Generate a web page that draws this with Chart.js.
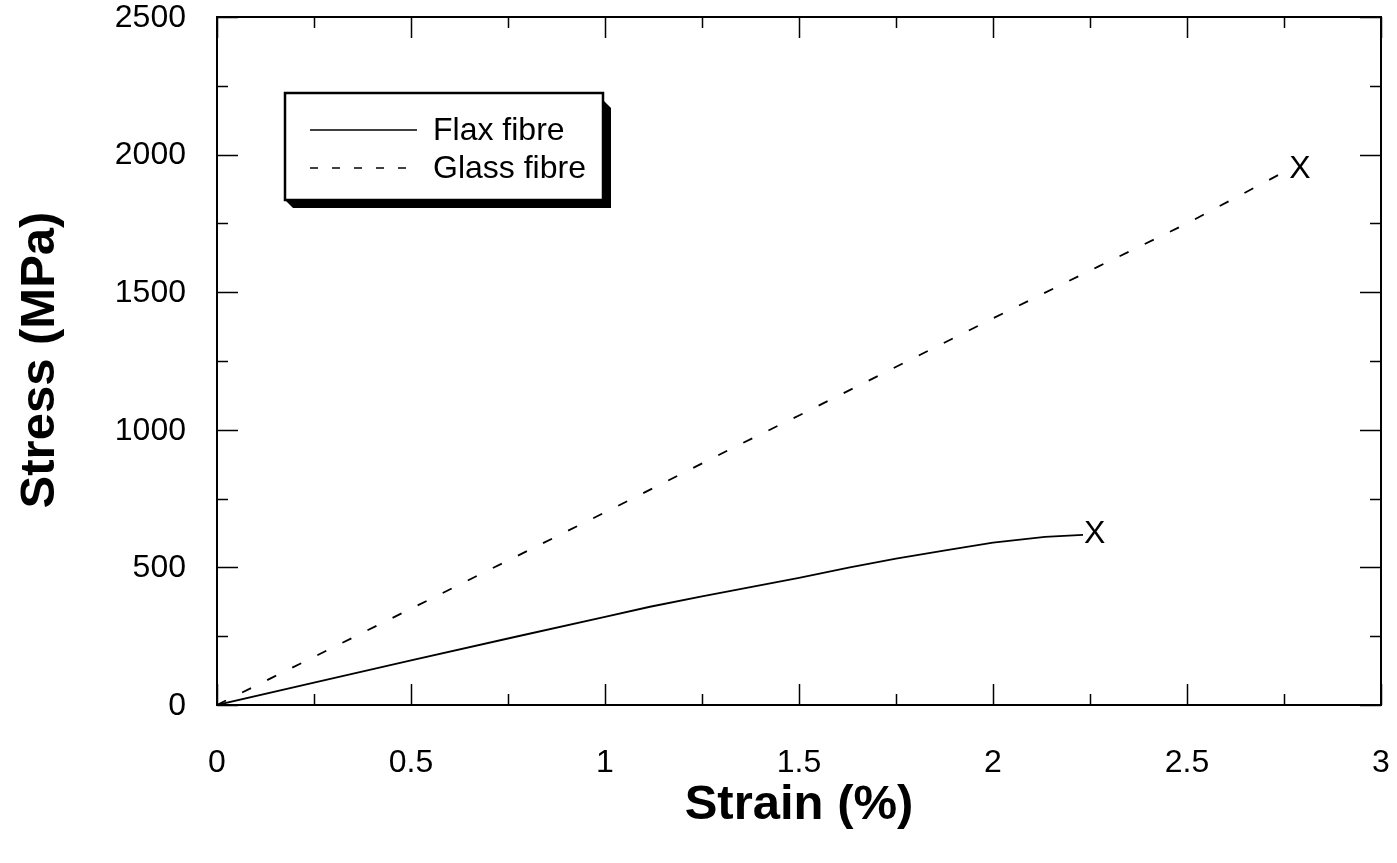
<!DOCTYPE html>
<html>
<head>
<meta charset="utf-8">
<script src="https://cdn.jsdelivr.net/npm/chart.js@4.4.1/dist/chart.umd.min.js"></script>
<style>
  html, body { margin: 0; padding: 0; background: #fff; }
  #wrap { width: 1397px; height: 863px; position: relative; }
</style>
</head>
<body>
<div id="wrap"><canvas id="c" width="1397" height="863"></canvas></div>
<script>
// ---- data ----
const flaxStrain = [0, 0.25, 0.5, 0.77, 1.0, 1.116, 1.25, 1.5, 1.631, 1.75, 1.881, 2.0, 2.134, 2.232];
const flaxStress = [0, 81, 162, 248, 320, 357, 395, 462, 500, 532, 563, 590, 611, 618];
const glassStrain = [0, 0.296, 0.5, 1.0, 1.335, 1.5, 2.0, 2.271, 2.5, 2.761];
const glassStress = [0, 207, 350, 700, 938, 1052, 1405, 1593, 1750, 1945];
const seriesNames = ['Flax fibre', 'Glass fibre'];
const xMajorTicks = [0, 0.5, 1, 1.5, 2, 2.5, 3];
const xTickLabels = ['0', '0.5', '1', '1.5', '2', '2.5', '3'];
const xMinorTicks = [0.25, 0.75, 1.25, 1.75, 2.25, 2.75];
const yMajorTicks = [0, 500, 1000, 1500, 2000, 2500];
const yTickLabels = ['0', '500', '1000', '1500', '2000', '2500'];
const yMinorTicks = [250, 750, 1250, 1750, 2250];
const xTitle = 'Strain (%)';
const yTitle = 'Stress (MPa)';
const failMark = 'X';

const toPts = (xs, ys) => xs.map((x, i) => ({ x: x, y: ys[i] }));
const FONT = '"Liberation Sans", Arial, sans-serif';

const framePlugin = {
  id: 'framePlugin',
  beforeDraw(chart) {
    const ctx = chart.ctx;
    ctx.save();
    ctx.fillStyle = '#fff';
    ctx.fillRect(0, 0, chart.width, chart.height);
    ctx.restore();
  },
  afterDraw(chart) {
    const ctx = chart.ctx;
    const a = chart.chartArea;
    const xs = chart.scales.x, ys = chart.scales.y;
    ctx.save();
    // frame
    ctx.strokeStyle = '#000';
    ctx.lineWidth = 2;
    ctx.strokeRect(a.left, a.top, a.right - a.left, a.bottom - a.top);
    // inward ticks
    ctx.lineWidth = 1.5;
    const tick = (vals, len) => {
      vals.forEach(v => {
        const px = Math.round(xs.getPixelForValue(v)) + 0.5;
        ctx.beginPath();
        ctx.moveTo(px, a.bottom); ctx.lineTo(px, a.bottom - len);
        ctx.moveTo(px, a.top); ctx.lineTo(px, a.top + len);
        ctx.stroke();
      });
    };
    const tickY = (vals, len) => {
      vals.forEach(v => {
        const py = Math.round(ys.getPixelForValue(v)) + 0.5;
        ctx.beginPath();
        ctx.moveTo(a.left, py); ctx.lineTo(a.left + len, py);
        ctx.moveTo(a.right, py); ctx.lineTo(a.right - len, py);
        ctx.stroke();
      });
    };
    tick(xMajorTicks, 21); tick(xMinorTicks, 11);
    tickY(yMajorTicks, 21); tickY(yMinorTicks, 11);

    // tick labels
    ctx.fillStyle = '#000';
    ctx.font = '32px ' + FONT;
    ctx.textAlign = 'center';
    ctx.textBaseline = 'middle';
    xMajorTicks.forEach((v, i) => {
      ctx.fillText(xTickLabels[i], xs.getPixelForValue(v), 763);
    });
    ctx.textAlign = 'right';
    yMajorTicks.forEach((v, i) => {
      ctx.fillText(yTickLabels[i], 186, ys.getPixelForValue(v) + 1);
    });

    // failure marks
    ctx.textAlign = 'left';
    [[flaxStrain, flaxStress], [glassStrain, glassStress]].forEach(([sx, sy]) => {
      const n = sx.length - 1;
      const px = xs.getPixelForValue(sx[n]);
      const py = ys.getPixelForValue(sy[n]);
      ctx.fillText(failMark, px + 1, py - 1);
    });

    // axis titles
    ctx.font = 'bold 49px ' + FONT;
    ctx.textAlign = 'center';
    ctx.textBaseline = 'middle';
    ctx.fillText(xTitle, (a.left + a.right) / 2, 805);
    ctx.save();
    ctx.translate(40, 360);
    ctx.rotate(-Math.PI / 2);
    ctx.fillText(yTitle, 0, 0);
    ctx.restore();

    // legend box with shadow
    const L = 285, T = 93, W = 318, H = 107;
    ctx.fillStyle = '#000';
    ctx.beginPath();
    ctx.moveTo(L + W, T + 7);
    ctx.lineTo(L + W + 8, T + 15);
    ctx.lineTo(L + W + 8, T + H + 8);
    ctx.lineTo(L + 8, T + H + 8);
    ctx.lineTo(L, T + H);
    ctx.lineTo(L + W, T + H);
    ctx.closePath();
    ctx.fill();
    ctx.fillStyle = '#fff';
    ctx.fillRect(L, T, W, H);
    ctx.strokeStyle = '#000';
    ctx.lineWidth = 2.5;
    ctx.strokeRect(L, T, W, H);

    ctx.lineWidth = 1.5;
    ctx.beginPath();
    ctx.moveTo(310, 130); ctx.lineTo(417, 130);
    ctx.stroke();
    ctx.setLineDash([8, 14]);
    ctx.beginPath();
    ctx.moveTo(310, 168); ctx.lineTo(417, 168);
    ctx.stroke();
    ctx.setLineDash([]);

    ctx.fillStyle = '#000';
    ctx.font = '32px ' + FONT;
    ctx.textAlign = 'left';
    ctx.textBaseline = 'middle';
    ctx.fillText(seriesNames[0], 433, 131);
    ctx.fillText(seriesNames[1], 433, 169);
    ctx.restore();
  }
};

new Chart(document.getElementById('c'), {
  type: 'scatter',
  data: {
    datasets: [
      {
        label: seriesNames[0],
        data: toPts(flaxStrain, flaxStress),
        showLine: true,
        borderColor: '#000',
        borderWidth: 1.8,
        pointRadius: 0,
        tension: 0
      },
      {
        label: seriesNames[1],
        data: toPts(glassStrain, glassStress),
        showLine: true,
        borderColor: '#000',
        borderWidth: 1.8,
        borderDash: [10, 18],
        pointRadius: 0,
        tension: 0
      }
    ]
  },
  options: {
    responsive: false,
    animation: false,
    layout: { padding: { top: 17, right: 16, left: 0, bottom: 0 } },
    plugins: { legend: { display: false }, tooltip: { enabled: false } },
    scales: {
      x: {
        type: 'linear',
        min: 0, max: 3,
        grid: { display: false, drawTicks: false },
        border: { display: false },
        ticks: { display: false },
        afterFit(scale) { scale.height = 158; }
      },
      y: {
        type: 'linear',
        min: 0, max: 2500,
        grid: { display: false, drawTicks: false },
        border: { display: false },
        ticks: { display: false },
        afterFit(scale) { scale.width = 217; }
      }
    }
  },
  plugins: [framePlugin]
});
</script>
</body>
</html>
